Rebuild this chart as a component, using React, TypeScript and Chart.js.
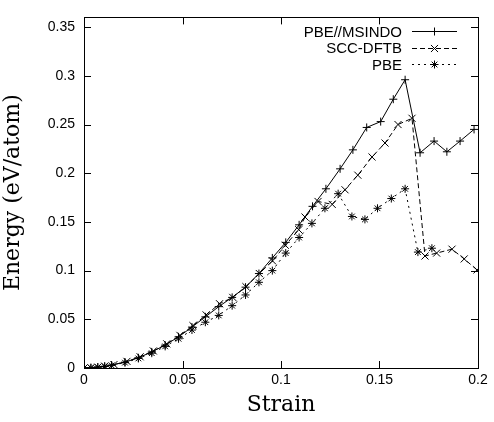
import React, { useEffect, useRef } from "react";
import { Chart, registerables } from "chart.js";

Chart.register(...registerables);

// ---- data ----
const seriesLabels = ["PBE//MSINDO", "SCC-DFTB", "PBE"];

const msindoStrain = [0, 0.0035, 0.007, 0.0105, 0.014, 0.0208, 0.0276, 0.0344, 0.0412, 0.048, 0.0548, 0.0616, 0.0684, 0.0752, 0.082, 0.0888, 0.0956, 0.1024, 0.1092, 0.116, 0.1228, 0.13, 0.1365, 0.1435, 0.1506, 0.157, 0.163, 0.1706, 0.1777, 0.1842, 0.1909, 0.198];
const msindoEnergy = [0, 0.0003, 0.001, 0.0018, 0.003, 0.006, 0.0105, 0.0165, 0.0235, 0.032, 0.042, 0.0525, 0.063, 0.0725, 0.083, 0.097, 0.113, 0.129, 0.147, 0.166, 0.184, 0.2045, 0.224, 0.247, 0.253, 0.276, 0.296, 0.221, 0.233, 0.222, 0.233, 0.245];

const sccStrain = [0, 0.0035, 0.007, 0.0105, 0.0152, 0.0218, 0.0285, 0.0352, 0.042, 0.0487, 0.0553, 0.062, 0.0688, 0.0755, 0.0822, 0.089, 0.0957, 0.1022, 0.109, 0.1122, 0.1188, 0.126, 0.1325, 0.139, 0.1462, 0.1528, 0.1594, 0.1665, 0.1731, 0.179, 0.1868, 0.193, 0.1995];
const sccEnergy = [0, 0.0003, 0.0009, 0.0019, 0.0035, 0.0068, 0.0115, 0.0175, 0.0248, 0.0335, 0.0435, 0.0545, 0.066, 0.0725, 0.0835, 0.097, 0.11, 0.126, 0.142, 0.155, 0.171, 0.168, 0.183, 0.198, 0.2167, 0.231, 0.25, 0.2564, 0.115, 0.118, 0.122, 0.112, 0.1007];

const pbeStrain = [0, 0.0035, 0.007, 0.0105, 0.014, 0.0208, 0.0276, 0.0344, 0.0412, 0.048, 0.0548, 0.0616, 0.0684, 0.0752, 0.082, 0.0888, 0.0956, 0.1024, 0.1092, 0.1157, 0.1223, 0.129, 0.136, 0.1426, 0.149, 0.156, 0.163, 0.1695, 0.1766];
const pbeEnergy = [0, 0.0002, 0.0008, 0.0016, 0.0027, 0.0055, 0.0098, 0.0152, 0.0222, 0.03, 0.039, 0.047, 0.054, 0.064, 0.075, 0.088, 0.1, 0.118, 0.134, 0.1485, 0.164, 0.179, 0.1556, 0.1526, 0.164, 0.174, 0.184, 0.119, 0.123];

const xTicks = [0, 0.05, 0.1, 0.15, 0.2];
const yTicks = [0, 0.05, 0.1, 0.15, 0.2, 0.25, 0.3, 0.35];
const xMin = 0;
const xMax = 0.2;
const yMin = 0;
const yMax = 0.36;

const toPoints = (xs: number[], ys: number[]) => xs.map((x, i) => ({ x, y: ys[i] }));

const fmt = (v: number) => String(Number(v.toFixed(2)));

function drawMarker(ctx: CanvasRenderingContext2D, style: string, x: number, y: number, r: number) {
  ctx.beginPath();
  const d = r * Math.SQRT1_2;
  if (style === "cross" || style === "star") {
    ctx.moveTo(x - r, y);
    ctx.lineTo(x + r, y);
    ctx.moveTo(x, y - r);
    ctx.lineTo(x, y + r);
  }
  if (style === "crossRot" || style === "star") {
    ctx.moveTo(x - d, y - d);
    ctx.lineTo(x + d, y + d);
    ctx.moveTo(x - d, y + d);
    ctx.lineTo(x + d, y - d);
  }
  ctx.stroke();
}

const framePlugin = {
  id: "gnuFrame",
  afterDatasetsDraw(chart: any) {
    const { ctx, chartArea: a, scales } = chart;
    ctx.save();
    ctx.strokeStyle = "#000";
    ctx.lineWidth = 1;
    ctx.setLineDash([]);
    ctx.strokeRect(Math.round(a.left) + 0.5, Math.round(a.top) + 0.5, Math.round(a.right - a.left), Math.round(a.bottom - a.top));
    const tl = 7;
    ctx.beginPath();
    scales.x.ticks.forEach((t: any) => {
      const px = Math.round(scales.x.getPixelForValue(t.value)) + 0.5;
      ctx.moveTo(px, a.bottom);
      ctx.lineTo(px, a.bottom - tl);
      ctx.moveTo(px, a.top);
      ctx.lineTo(px, a.top + tl);
    });
    scales.y.ticks.forEach((t: any) => {
      const py = Math.round(scales.y.getPixelForValue(t.value)) + 0.5;
      ctx.moveTo(a.left, py);
      ctx.lineTo(a.left + tl, py);
      ctx.moveTo(a.right, py);
      ctx.lineTo(a.right - tl, py);
    });
    ctx.stroke();

    // key (legend), gnuplot style
    const textRight = a.right - 76;
    const lineL = a.right - 66;
    const lineR = a.right - 21;
    chart.data.datasets.forEach((ds: any, i: number) => {
      const y = a.top + 14 + i * 16.5;
      ctx.font = '15px "Liberation Sans", Arial, sans-serif';
      ctx.fillStyle = "#000";
      ctx.textAlign = "right";
      ctx.textBaseline = "middle";
      ctx.fillText(ds.label, textRight, y + 1);
      ctx.setLineDash(ds.borderDash || []);
      ctx.beginPath();
      ctx.moveTo(lineL, Math.round(y) + 0.5);
      ctx.lineTo(lineR, Math.round(y) + 0.5);
      ctx.stroke();
      ctx.setLineDash([]);
      drawMarker(ctx, ds.pointStyle, (lineL + lineR) / 2, Math.round(y) + 0.5, ds.pointRadius);
    });
    ctx.restore();
  },
};

export default function App() {
  const ref = useRef<HTMLCanvasElement | null>(null);
  useEffect(() => {
    if (!ref.current) return;
    const common = {
      borderColor: "#000",
      borderWidth: 1,
      pointBorderColor: "#000",
      pointBackgroundColor: "#000",
      pointBorderWidth: 1,
      pointRadius: 4,
      showLine: true,
      fill: false,
      tension: 0,
    };
    const chart = new Chart(ref.current, {
      type: "scatter",
      data: {
        datasets: [
          { ...common, label: seriesLabels[0], data: toPoints(msindoStrain, msindoEnergy), pointStyle: "cross", borderDash: [] },
          { ...common, label: seriesLabels[1], data: toPoints(sccStrain, sccEnergy), pointStyle: "crossRot", pointRadius: 5, borderDash: [5, 3] },
          { ...common, label: seriesLabels[2], data: toPoints(pbeStrain, pbeEnergy), pointStyle: "star", borderDash: [2, 4] },
        ],
      },
      options: {
        responsive: false,
        animation: false,
        layout: { padding: { top: 14, right: 16, bottom: 0, left: 0 } },
        plugins: { legend: { display: false }, tooltip: { enabled: false } },
        scales: {
          x: {
            type: "linear",
            min: xMin,
            max: xMax,
            afterBuildTicks: (s: any) => {
              s.ticks = xTicks.map((v) => ({ value: v }));
            },
            afterFit: (s: any) => {
              s.height = 54;
            },
            grid: { display: false, drawTicks: false },
            border: { display: false },
            ticks: {
              padding: 4,
              color: "#000",
              font: { family: '"Liberation Sans", Arial, sans-serif', size: 14 },
              callback: (v: any) => fmt(Number(v)),
              maxRotation: 0,
            },
            title: {
              display: true,
              text: "Strain",
              color: "#000",
              font: { family: '"DejaVu Serif", serif', size: 22, weight: "normal" },
              padding: { top: 0, bottom: 4 },
            },
          },
          y: {
            type: "linear",
            min: yMin,
            max: yMax,
            afterBuildTicks: (s: any) => {
              s.ticks = yTicks.map((v) => ({ value: v }));
            },
            afterFit: (s: any) => {
              s.width = 84;
            },
            grid: { display: false, drawTicks: false },
            border: { display: false },
            ticks: {
              padding: 9,
              color: "#000",
              font: { family: '"Liberation Sans", Arial, sans-serif', size: 14 },
              callback: (v: any) => fmt(Number(v)),
            },
            title: {
              display: true,
              text: "Energy (eV/atom)",
              color: "#000",
              font: { family: '"DejaVu Serif", serif', size: 22, weight: "normal" },
              padding: { top: 0, bottom: 8 },
            },
          },
        },
      },
      plugins: [framePlugin],
    } as any);
    return () => chart.destroy();
  }, []);
  return (
    <div style={{ position: "absolute", left: 0, top: 0, width: 494, height: 422, background: "#fff" }}>
      <canvas ref={ref} width={494} height={422} style={{ display: "block" }} />
    </div>
  );
}
